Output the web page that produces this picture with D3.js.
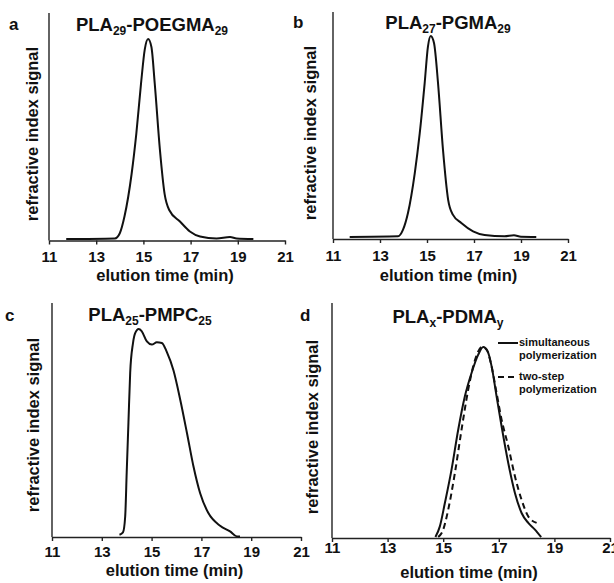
<!DOCTYPE html>
<html lang="en">
<head>
<meta charset="UTF-8">
<title>GPC traces</title>
<script src="https://cdn.jsdelivr.net/npm/d3@7"></script>
<style>
  body { margin: 0; background: #fff; }
  svg { display: block; font-family: "Liberation Sans", Arial, sans-serif; font-weight: bold; }
</style>
</head>
<body>
<div id="chart"></div>
<script>
// x ticks (elution time, min)
const tickValues = [11, 13, 15, 17, 19, 21];

// panel a: PLA29-POEGMA29
const aTime   = [11.73, 13.79, 14.0, 14.2, 14.5, 14.7, 14.9, 15.06, 15.2, 15.34, 15.48, 15.7, 15.9, 16.1, 16.55, 16.97, 17.4, 18.1, 18.67, 18.95, 19.66];
const aSignal = [0.007, 0.01, 0.036, 0.12, 0.33, 0.53, 0.78, 0.95, 1, 0.96, 0.78, 0.45, 0.23, 0.15, 0.094, 0.045, 0.02, 0.01, 0.017, 0.01, 0.007];

// panel b: PLA27-PGMA29
const bTime   = [11.71, 13.77, 13.98, 14.19, 14.48, 14.69, 14.9, 15.04, 15.16, 15.3, 15.47, 15.68, 15.9, 16.1, 16.46, 16.96, 17.45, 18.3, 18.7, 19.0, 19.65];
const bSignal = [0.01, 0.013, 0.046, 0.128, 0.325, 0.52, 0.767, 0.948, 1, 0.964, 0.767, 0.44, 0.193, 0.12, 0.079, 0.038, 0.02, 0.013, 0.018, 0.011, 0.01];

// panel c: PLA25-PMPC25
const cTime   = [13.71, 13.85, 13.94, 14.0, 14.07, 14.14, 14.25, 14.34, 14.48, 14.6, 14.81, 15.01, 15.21, 15.41, 15.61, 15.88, 16.15, 16.42, 16.68, 16.95, 17.28, 17.75, 18.15, 18.42, 18.55];
const cSignal = [0.011, 0.022, 0.1, 0.31, 0.55, 0.79, 0.93, 0.98, 1, 0.99, 0.94, 0.925, 0.936, 0.933, 0.89, 0.8, 0.66, 0.5, 0.34, 0.21, 0.115, 0.054, 0.027, 0.003, 0.002];

// panel d: PLAx-PDMAy, simultaneous vs two-step
const dSimTime   = [14.72, 14.88, 15.06, 15.3, 15.54, 15.78, 16.02, 16.26, 16.44, 16.6, 16.74, 16.92, 17.1, 17.34, 17.58, 17.82, 18.06, 18.3, 18.52];
const dSimSignal = [0.005, 0.061, 0.183, 0.358, 0.567, 0.742, 0.864, 0.96, 1, 0.977, 0.9, 0.742, 0.585, 0.393, 0.236, 0.131, 0.079, 0.044, 0.005];
const dTwoTime   = [14.82, 15.0, 15.18, 15.42, 15.66, 15.9, 16.08, 16.26, 16.4, 16.56, 16.74, 16.92, 17.1, 17.34, 17.58, 17.82, 18.06, 18.36];
const dTwoSignal = [0.005, 0.044, 0.148, 0.34, 0.567, 0.777, 0.899, 0.977, 1, 0.986, 0.899, 0.759, 0.62, 0.48, 0.323, 0.2, 0.113, 0.079];

const legendLabels = [["simultaneous", "polymerization"], ["two-step", "polymerization"]];

const width = 614, height = 583;

const svg = d3.select("#chart").append("svg")
    .attr("width", width)
    .attr("height", height);

const zip = (t, s) => t.map((v, i) => ({t: v, s: s[i]}));

const panels = [
    {letter: "a", main: "PLA", sub1: "29", mid: "-POEGMA", sub2: "29",
     x0: 49, x1: 285, base: 240.5, peak: 39, top: 13,
     tickY: 258, labelY: 277, titleX: 152, titleY: 31, letterX: 9, letterY: 30, yLabX: 38, yLabY: 134,
     series: [{d: zip(aTime, aSignal), dash: null}]},
    {letter: "b", main: "PLA", sub1: "27", mid: "-PGMA", sub2: "29",
     x0: 333, x1: 568, base: 239, peak: 36, top: 12,
     tickY: 257, labelY: 277, titleX: 448, titleY: 29, letterX: 293, letterY: 28, yLabX: 316, yLabY: 133,
     series: [{d: zip(bTime, bSignal), dash: null}]},
    {letter: "c", main: "PLA", sub1: "25", mid: "-PMPC", sub2: "25",
     x0: 52, x1: 301, base: 537, peak: 329, top: 303,
     tickY: 553, labelY: 572, titleX: 150, titleY: 321, letterX: 5, letterY: 321, yLabX: 39, yLabY: 425,
     series: [{d: zip(cTime, cSignal), dash: null}]},
    {letter: "d", main: "PLA", sub1: "x", mid: "-PDMA", sub2: "y",
     x0: 332, x1: 610, base: 538, peak: 347, top: 303,
     tickY: 549, labelY: 574, titleX: 448, titleY: 323, letterX: 300, letterY: 321, yLabX: 318, yLabY: 427,
     series: [{d: zip(dSimTime, dSimSignal), dash: null}, {d: zip(dTwoTime, dTwoSignal), dash: "6,4"}],
     legend: true}
];

panels.forEach(p => {
    const x = d3.scaleLinear().domain([11, 21]).range([p.x0, p.x1]);
    const y = d3.scaleLinear().domain([0, 1]).range([p.base, p.peak]);
    const g = svg.append("g");

    // y axis: plain line, no ticks
    g.append("line")
        .attr("x1", p.x0).attr("x2", p.x0)
        .attr("y1", p.top).attr("y2", p.base)
        .attr("stroke", "#222").attr("stroke-width", 1.4);

    // x axis
    const xAxis = g.append("g")
        .attr("transform", `translate(0,${p.base})`)
        .call(d3.axisBottom(x).tickValues(tickValues).tickSize(4).tickSizeOuter(0).tickFormat(d3.format("d")));
    xAxis.select(".domain").attr("stroke", "#222").attr("stroke-width", 1.4);
    xAxis.selectAll(".tick line").attr("stroke", "#222").attr("stroke-width", 1.4);
    xAxis.selectAll(".tick text")
        .attr("y", null).attr("dy", null)
        .attr("transform", `translate(0,${p.tickY - p.base})`)
        .attr("dominant-baseline", "middle")
        .attr("font-size", 15).attr("font-weight", "bold")
        .attr("font-family", "Liberation Sans, Arial, sans-serif")
        .attr("fill", "#111");

    const line = d3.line()
        .x(d => x(d.t))
        .y(d => y(d.s))
        .curve(d3.curveMonotoneX);

    p.series.forEach(s => {
        g.append("path")
            .datum(s.d)
            .attr("fill", "none")
            .attr("stroke", "#111")
            .attr("stroke-width", 2)
            .attr("stroke-dasharray", s.dash)
            .attr("d", line);
    });

    // x label
    g.append("text")
        .attr("x", (p.x0 + p.x1) / 2 - 2)
        .attr("y", p.labelY)
        .attr("text-anchor", "middle")
        .attr("dominant-baseline", "middle")
        .attr("font-size", 16.5)
        .attr("fill", "#111")
        .text("elution time (min)");

    // y label
    g.append("text")
        .attr("transform", `translate(${p.yLabX},${p.yLabY}) rotate(-90)`)
        .attr("text-anchor", "middle")
        .attr("font-size", 16.5)
        .attr("fill", "#111")
        .text("refractive index signal");

    // panel letter
    g.append("text")
        .attr("x", p.letterX).attr("y", p.letterY)
        .attr("font-size", 17)
        .attr("fill", "#111")
        .text(p.letter);

    // title with subscripts
    const t = g.append("text")
        .attr("x", p.titleX).attr("y", p.titleY)
        .attr("text-anchor", "middle")
        .attr("font-size", 18.5)
        .attr("fill", "#111");
    t.append("tspan").text(p.main);
    t.append("tspan").attr("font-size", 12).attr("dy", 4).text(p.sub1);
    t.append("tspan").attr("dy", -4).text(p.mid);
    t.append("tspan").attr("font-size", 12).attr("dy", 4).text(p.sub2);

    if (p.legend) {
        const lx = 498, rows = [343, 377];
        rows.forEach((ry, i) => {
            g.append("line")
                .attr("x1", lx).attr("x2", lx + 20)
                .attr("y1", ry).attr("y2", ry)
                .attr("stroke", "#111").attr("stroke-width", 2)
                .attr("stroke-dasharray", p.series[i].dash);
            legendLabels[i].forEach((txt, j) => {
                g.append("text")
                    .attr("x", lx + 21).attr("y", ry + j * 13.5)
                    .attr("dominant-baseline", "middle")
                    .attr("font-size", 11)
                    .attr("fill", "#111")
                    .text(txt);
            });
        });
    }
});
</script>
</body>
</html>
